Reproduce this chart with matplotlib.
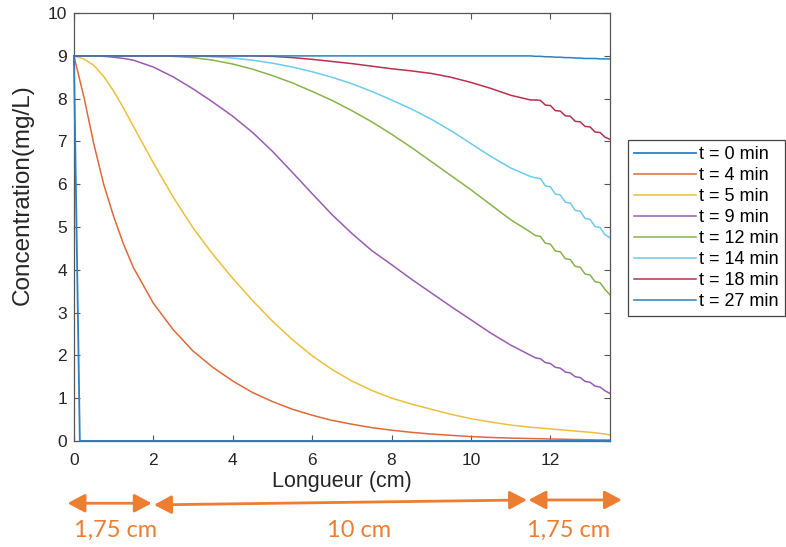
"""Concentration profiles along the column length at several times (MATLAB-style figure)."""

import matplotlib

matplotlib.use("Agg")
import matplotlib.pyplot as plt
from matplotlib.transforms import blended_transform_factory

# shared sampling of the smooth part of each profile (cm)
X_FINE = [0, 0.25, 0.5, 0.75, 1.0, 1.25, 1.5, 2.0, 2.5, 3.0, 3.5, 4.0, 4.5, 5.0,
          5.5, 6.0, 6.5, 7.0, 7.5, 8.0, 8.5, 9.0, 9.5, 10.0, 10.5, 11.0, 11.5]
# finer sampling over the outlet zone, where the profiles turn into small steps
X_STEP = [11.625, 11.75, 11.875, 12.0, 12.125, 12.25, 12.375, 12.5,
          12.625, 12.75, 12.875, 13.0, 13.125, 13.25, 13.375, 13.5]

T0_X = [0, 0.15, 13.5]
T0_Y = [9.0, 0.0, 0.0]

T4 = [9.0, 8.05, 6.95, 6.0, 5.25, 4.6, 4.05, 3.22, 2.6, 2.1, 1.72, 1.4, 1.13, 0.92,
      0.74, 0.6, 0.48, 0.39, 0.31, 0.25, 0.2, 0.16, 0.13, 0.1, 0.08, 0.065, 0.055,
      0.052, 0.05, 0.047, 0.045, 0.042, 0.04, 0.037, 0.035,
      0.032, 0.03, 0.028, 0.026, 0.024, 0.022, 0.021, 0.02]
T5 = [9.0, 8.93, 8.78, 8.52, 8.18, 7.78, 7.35, 6.5, 5.7, 4.98, 4.36, 3.8, 3.28, 2.8,
      2.37, 1.99, 1.67, 1.4, 1.18, 1.0, 0.86, 0.74, 0.62, 0.52, 0.44, 0.37, 0.32,
      0.31, 0.3, 0.29, 0.28, 0.27, 0.26, 0.25, 0.24,
      0.23, 0.22, 0.21, 0.2, 0.19, 0.175, 0.16, 0.14]
T9 = [9.0, 9.0, 9.0, 8.99, 8.97, 8.94, 8.9, 8.74, 8.51, 8.23, 7.92, 7.59, 7.21, 6.77,
      6.28, 5.78, 5.29, 4.85, 4.45, 4.12, 3.78, 3.46, 3.14, 2.83, 2.52, 2.24, 2.0,
      1.94, 1.92, 1.83, 1.81, 1.72, 1.7, 1.61, 1.59,
      1.5, 1.48, 1.39, 1.37, 1.28, 1.26, 1.17, 1.11]
T12 = [9.0, 9.0, 9.0, 9.0, 9.0, 9.0, 9.0, 9.0, 8.99, 8.96, 8.9, 8.81, 8.69, 8.54,
       8.37, 8.17, 7.96, 7.72, 7.46, 7.17, 6.86, 6.53, 6.2, 5.87, 5.52, 5.17, 4.88,
       4.8, 4.78, 4.62, 4.6, 4.44, 4.42, 4.26, 4.24,
       4.08, 4.06, 3.9, 3.88, 3.72, 3.7, 3.54, 3.42]
T14 = [9.0, 9.0, 9.0, 9.0, 9.0, 9.0, 9.0, 9.0, 9.0, 9.0, 8.98, 8.95, 8.9, 8.83,
       8.74, 8.63, 8.5, 8.35, 8.17, 7.97, 7.76, 7.52, 7.25, 6.95, 6.65, 6.38, 6.18,
       6.15, 6.13, 5.96, 5.94, 5.77, 5.75, 5.58, 5.56,
       5.39, 5.37, 5.2, 5.18, 5.01, 4.99, 4.82, 4.75]
T18 = [9.0, 9.0, 9.0, 9.0, 9.0, 9.0, 9.0, 9.0, 9.0, 9.0, 9.0, 9.0, 9.0, 8.99,
       8.96, 8.92, 8.87, 8.82, 8.76, 8.7, 8.65, 8.59, 8.5, 8.38, 8.24, 8.08, 7.97,
       7.97, 7.96, 7.85, 7.84, 7.72, 7.71, 7.6, 7.59,
       7.47, 7.46, 7.35, 7.34, 7.22, 7.21, 7.1, 7.05]
T27 = [9.0] * 27 + [8.99, 8.99, 8.98, 8.98, 8.97, 8.97, 8.96, 8.96,
                    8.95, 8.95, 8.94, 8.94, 8.94, 8.93, 8.93, 8.93]

LABELS = ["t = 0 min", "t = 4 min", "t = 5 min", "t = 9 min",
          "t = 12 min", "t = 14 min", "t = 18 min", "t = 27 min"]
COLORS = ["#2f7fc1", "#e0693a", "#edbf3a", "#9a5bb0",
          "#86b44a", "#6ccbef", "#b8304f", "#2f7fc1"]

# zone annotations under the axis: (start, end) in cm along the column, and their labels
ZONES = [(-0.16, 1.96), (2.02, 11.41), (11.45, 13.8)]
ZONE_LABELS = ["1,75 cm", "10 cm", "1,75 cm"]
ZONE_LABEL_X = [1.06, 7.18, 12.47]

ORANGE = "#ed7d31"

plt.rcParams["font.family"] = ["Liberation Sans", "DejaVu Sans"]

fig = plt.figure(figsize=(7.86, 5.47), dpi=100)
ax = fig.add_axes([0.094, 0.194, 0.682, 0.782])

x_all = X_FINE + X_STEP
ax.plot(T0_X, T0_Y, color=COLORS[0], lw=1.3, label=LABELS[0], clip_on=False, zorder=3)
for ys, lab, col in zip([T4, T5, T9, T12, T14, T18, T27], LABELS[1:], COLORS[1:]):
    ax.plot(x_all, ys, color=col, lw=1.1, label=lab, clip_on=False)

ax.set_xlim(0, 13.5)
ax.set_ylim(0, 10)
ax.set_xticks(range(0, 13, 2))
ax.set_yticks(range(0, 11))
ax.tick_params(direction="in", length=4, width=0.8, top=True, right=True,
               labelsize=12.5, colors="#555555", labelcolor="#262626", pad=5)
ax.tick_params(axis="x", pad=9)
for s in ax.spines.values():
    s.set_color("#555555")
    s.set_linewidth(0.9)
ax.set_xlabel("Longueur (cm)", fontsize=15.5, color="#262626", labelpad=2)
ax.set_ylabel("Concentration(mg/L)", fontsize=17.5, color="#262626")
# the label sits above the middle of the axis in the original
ax.yaxis.set_label_coords(-0.074, 0.575)

leg = ax.legend(loc="upper left", bbox_to_anchor=(0.799, 0.744),
                bbox_transform=fig.transFigure, borderaxespad=0, fontsize=13,
                handlelength=3.4, handletextpad=0.2, labelspacing=0.22,
                borderpad=0.35, fancybox=False, framealpha=1)
leg.get_frame().set_edgecolor("#444444")
leg.get_frame().set_linewidth(0.9)

# length of each zone of the column, drawn under the x axis
tr = blended_transform_factory(ax.transData, fig.transFigure)
ARROW_Y = [(0.080, 0.080), (0.077, 0.086), (0.086, 0.086)]
for (x0, x1), (y0, y1) in zip(ZONES, ARROW_Y):
    ax.annotate("", xy=(x1, y1), xycoords=tr, xytext=(x0, y0), textcoords=tr,
                arrowprops=dict(arrowstyle="<|-|>,head_length=0.75,head_width=0.4",
                                color=ORANGE, lw=2, shrinkA=0, shrinkB=0,
                                mutation_scale=14))
for xt, lab in zip(ZONE_LABEL_X, ZONE_LABELS):
    ax.text(xt, 0.03, lab, transform=tr, ha="center", va="center",
            fontsize=17, color=ORANGE, family="Lato")

fig.savefig("out.png", dpi=100, facecolor="white")
